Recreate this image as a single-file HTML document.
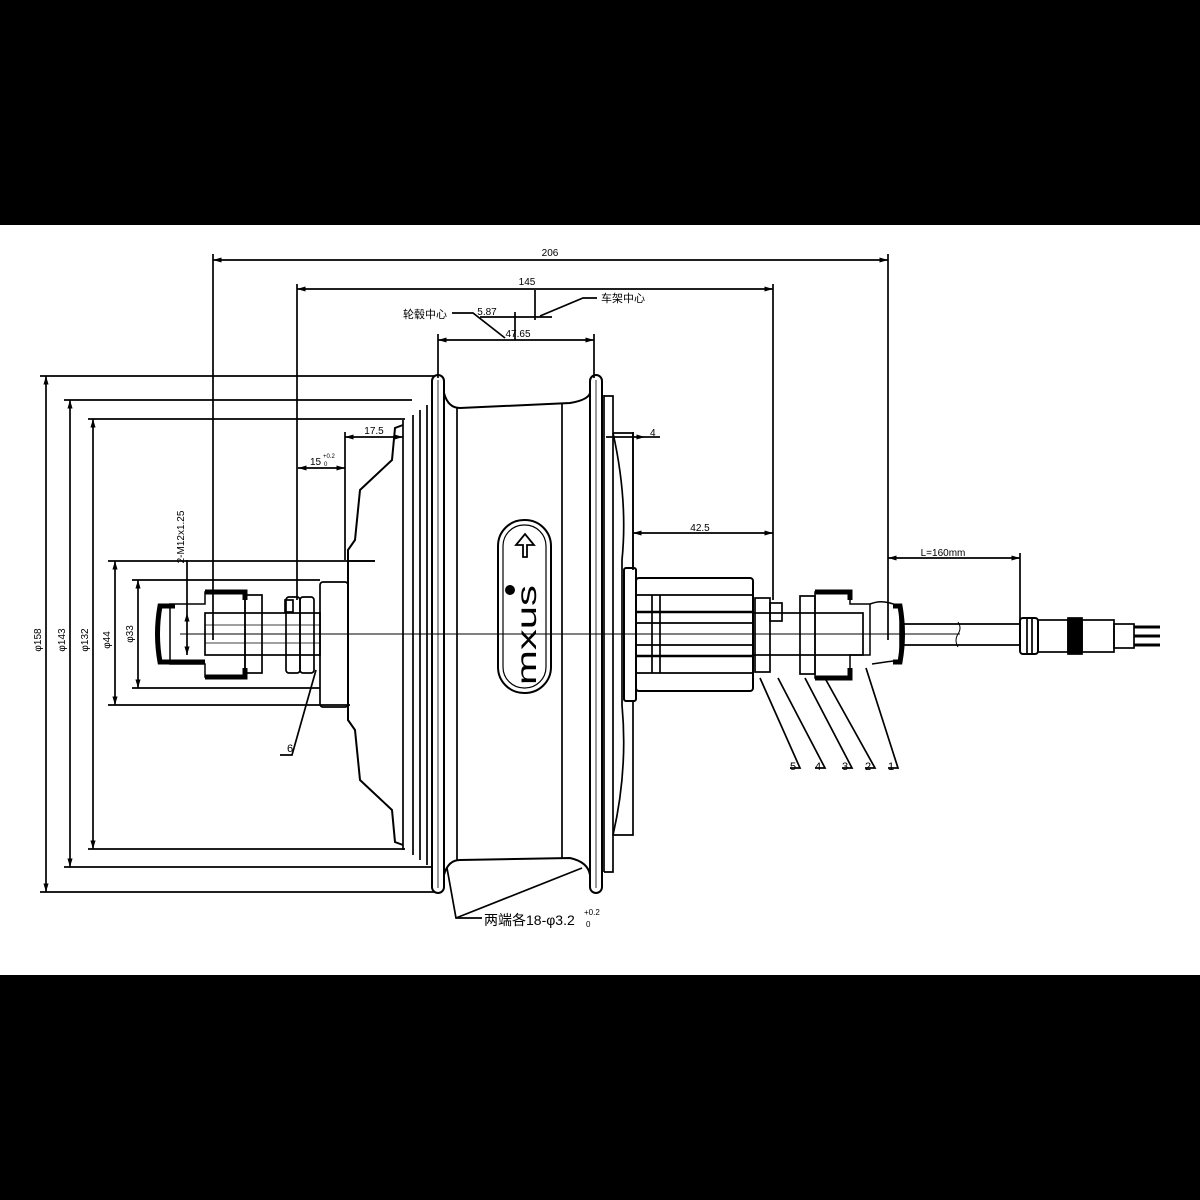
<!DOCTYPE html>
<html><head><meta charset="utf-8"><style>
html,body{margin:0;padding:0;background:#000;}
svg{display:block;}
text{font-family:"Liberation Sans","Noto Sans CJK SC",sans-serif;fill:#000;}
</style></head><body>
<svg width="1200" height="1200" viewBox="0 0 1200 1200" xmlns="http://www.w3.org/2000/svg">
<defs>
<marker id="a" viewBox="0 0 10 10" refX="10" refY="5" markerWidth="5" markerHeight="5" orient="auto-start-reverse"><path d="M0,2 L10,5 L0,8 z" fill="#000"/></marker>
</defs>
<rect x="0" y="0" width="1200" height="1200" fill="#000"/>
<rect x="0" y="225" width="1200" height="750" fill="#fff"/>
<g stroke="#000" fill="none" stroke-width="1.7">
<line x1="213" y1="260" x2="888" y2="260" marker-start="url(#a)" marker-end="url(#a)"/>
<line x1="213" y1="254" x2="213" y2="640"/>
<line x1="888" y1="254" x2="888" y2="640"/>
<line x1="297" y1="289" x2="773" y2="289" marker-start="url(#a)" marker-end="url(#a)"/>
<line x1="297" y1="284" x2="297" y2="600"/>
<line x1="773" y1="284" x2="773" y2="600"/>
<line x1="438" y1="340" x2="594" y2="340" marker-start="url(#a)" marker-end="url(#a)"/>
<line x1="438" y1="334" x2="438" y2="378"/>
<line x1="594" y1="334" x2="594" y2="378"/>
<line x1="480" y1="317" x2="552" y2="317"/>
<line x1="515" y1="312" x2="515" y2="340"/>
<line x1="535" y1="290" x2="535" y2="320"/>
<polyline points="452,313 473,313 505,338"/>
<polyline points="597,298 583,298 540,316"/>
<line x1="46" y1="376" x2="46" y2="892" marker-start="url(#a)" marker-end="url(#a)"/>
<line x1="70" y1="400" x2="70" y2="867" marker-start="url(#a)" marker-end="url(#a)"/>
<line x1="93" y1="419" x2="93" y2="849" marker-start="url(#a)" marker-end="url(#a)"/>
<line x1="115" y1="561" x2="115" y2="705" marker-start="url(#a)" marker-end="url(#a)"/>
<line x1="138" y1="580" x2="138" y2="688" marker-start="url(#a)" marker-end="url(#a)"/>
<line x1="40" y1="376" x2="435" y2="376"/>
<line x1="64" y1="400" x2="412" y2="400"/>
<line x1="88" y1="419" x2="405" y2="419"/>
<line x1="88" y1="849" x2="405" y2="849"/>
<line x1="64" y1="867" x2="432" y2="867"/>
<line x1="40" y1="892" x2="435" y2="892"/>
<line x1="108" y1="561" x2="375" y2="561"/>
<line x1="132" y1="580" x2="320" y2="580"/>
<line x1="132" y1="688" x2="320" y2="688"/>
<line x1="108" y1="705" x2="350" y2="705"/>
<line x1="187" y1="613" x2="187" y2="655" marker-start="url(#a)" marker-end="url(#a)"/>
<line x1="187" y1="560" x2="187" y2="613"/>
<line x1="180" y1="634" x2="960" y2="634" stroke-width="1"/>
<line x1="345" y1="437" x2="403" y2="437" marker-start="url(#a)" marker-end="url(#a)"/>
<line x1="345" y1="432" x2="345" y2="560"/>
<line x1="298" y1="468" x2="345" y2="468" marker-start="url(#a)" marker-end="url(#a)"/>
<line x1="606" y1="437" x2="645" y2="437" marker-end="url(#a)"/>
<line x1="633" y1="432" x2="633" y2="570"/>
<line x1="645" y1="437" x2="660" y2="437"/>
<line x1="633" y1="533" x2="773" y2="533" marker-start="url(#a)" marker-end="url(#a)"/>
<line x1="888" y1="558" x2="1020" y2="558" marker-start="url(#a)" marker-end="url(#a)"/>
<line x1="1020" y1="553" x2="1020" y2="622"/>
<polyline points="403,425 395,428 392,460 360,490 355,540 348,550 348,720 355,730 360,780 392,810 395,842 403,845" stroke-width="2"/>
<line x1="403" y1="420" x2="403" y2="850"/>
<line x1="413" y1="415" x2="413" y2="855"/>
<line x1="420" y1="410" x2="420" y2="860"/>
<line x1="427" y1="405" x2="427" y2="865"/>
<rect x="320" y="582" width="28" height="125" rx="3"/>
<line x1="348" y1="561" x2="375" y2="561"/>
<rect x="432" y="375" width="12" height="518" rx="6" stroke-width="2"/>
<rect x="590" y="375" width="12" height="518" rx="6" stroke-width="2"/>
<line x1="438" y1="380" x2="438" y2="888" stroke-width="0.8"/>
<line x1="596" y1="380" x2="596" y2="888" stroke-width="0.8"/>
<path d="M444,393 Q448,408 460,408 L570,403 Q588,400 590,393" stroke-width="2"/>
<path d="M444,875 Q448,860 460,860 L570,858 Q588,862 590,875" stroke-width="2"/>
<line x1="457" y1="408" x2="457" y2="860"/>
<line x1="562" y1="404" x2="562" y2="858"/>
<line x1="604" y1="395" x2="604" y2="872"/>
<polyline points="604,396 613,396 613,872 604,872"/>
<path d="M613,433 Q628,500 622,560 L622,705 Q628,770 613,835"/>
<polyline points="613,433 633,433 633,568"/>
<polyline points="613,835 633,835 633,700"/>
<rect x="624" y="568" width="12" height="133" rx="2" stroke-width="2"/>
<rect x="636" y="578" width="117" height="113" rx="3" stroke-width="2"/>
<line x1="636" y1="595" x2="753" y2="595"/>
<line x1="636" y1="612" x2="753" y2="612" stroke-width="2.5"/>
<line x1="636" y1="623" x2="753" y2="623"/>
<line x1="636" y1="645" x2="753" y2="645"/>
<line x1="636" y1="656" x2="753" y2="656" stroke-width="2.5"/>
<line x1="636" y1="673" x2="753" y2="673"/>
<line x1="652" y1="595" x2="652" y2="673"/>
<line x1="660" y1="595" x2="660" y2="673"/>
<rect x="755" y="598" width="15" height="74"/>
<rect x="770" y="603" width="12" height="18"/>
<rect x="753" y="613" width="110" height="42"/>
<rect x="800" y="596" width="15" height="78"/>
<path d="M815,592 H850 V604 H870 V655 H850 V678 H815 Z" stroke-width="1.5"/>
<path d="M815,592 H850 V600" stroke-width="5"/>
<path d="M815,678 H850 V668" stroke-width="5"/>
<path d="M870,604 Q880,600 890,603 L900,606 L900,660 L872,664" stroke-width="1.5"/>
<path d="M893,606 L900,606 Q905,634 900,662 L893,662" stroke-width="5"/>
<line x1="900" y1="624" x2="1020" y2="624"/>
<line x1="900" y1="645" x2="1020" y2="645"/>
<path d="M958,622 q4,6 0,12 q-4,6 0,13" stroke-width="1"/>
<rect x="1020" y="618" width="18" height="36" rx="3" stroke-width="2"/>
<line x1="1027" y1="618" x2="1027" y2="654"/>
<line x1="1032" y1="618" x2="1032" y2="654"/>
<rect x="1038" y="620" width="30" height="32"/>
<rect x="1068" y="618" width="14" height="36" fill="#000"/>
<rect x="1082" y="620" width="32" height="32"/>
<rect x="1114" y="624" width="20" height="24"/>
<line x1="1134" y1="627" x2="1160" y2="627" stroke-width="3"/>
<line x1="1134" y1="636" x2="1160" y2="636" stroke-width="3"/>
<line x1="1134" y1="645" x2="1160" y2="645" stroke-width="3"/>
<rect x="205" y="613" width="115" height="42"/>
<path d="M205,592 H245 V677 H205 V664 H170 V604 H205 Z" stroke-width="1.5"/>
<path d="M205,592 H245 V600" stroke-width="5"/>
<path d="M205,677 H245 V668" stroke-width="5"/>
<path d="M175,606 L160,606 Q155,634 160,662 L205,662" stroke-width="5"/>
<rect x="245" y="595" width="17" height="78"/>
<rect x="286" y="597" width="14" height="76" rx="3"/>
<rect x="300" y="597" width="14" height="76" rx="3"/>
<rect x="285" y="600" width="8" height="12"/>
<line x1="205" y1="625" x2="320" y2="625" stroke-width="0.8"/>
<line x1="205" y1="643" x2="320" y2="643" stroke-width="0.8"/>
<polyline points="280,755 292,755 316,670"/>
<polyline points="790,768 800,768 760,678"/>
<polyline points="815,768 825,768 778,678"/>
<polyline points="842,768 852,768 805,678"/>
<polyline points="865,768 875,768 826,680"/>
<polyline points="888,768 898,768 866,668"/>
<polyline points="482,918 456,918 447,868"/>
<line x1="456" y1="918" x2="582" y2="868"/>
<rect x="498" y="520" width="53" height="173" rx="26" stroke-width="2"/>
<rect x="503" y="525" width="43" height="163" rx="21" stroke-width="1.2"/>
<path d="M523,557 L523,545 L516,545 L525,534 L534,545 L527,545 L527,557 Z" stroke-width="1.8"/>
</g>
<circle cx="510" cy="590" r="5" fill="#000"/>
<text transform="translate(536,685) rotate(-90)" font-size="28" font-family="DejaVu Sans, sans-serif" textLength="100" lengthAdjust="spacingAndGlyphs">mxus</text>
<g font-size="10">
<text x="550" y="256" text-anchor="middle">206</text>
<text x="527" y="285" text-anchor="middle">145</text>
<text x="518" y="337" text-anchor="middle">47.65</text>
<text x="487" y="315" text-anchor="middle">5.87</text>
<text x="374" y="434" text-anchor="middle">17.5</text>
<text x="310" y="465">15</text>
<text x="323" y="458" font-size="6">+0.2</text>
<text x="324" y="466" font-size="6">0</text>
<text x="650" y="436">4</text>
<text x="700" y="531" text-anchor="middle">42.5</text>
<text x="943" y="556" text-anchor="middle">L=160mm</text>
<text x="287" y="752" font-size="11">6</text>
<text x="790" y="770" font-size="11">5</text>
<text x="815" y="770" font-size="11">4</text>
<text x="842" y="770" font-size="11">3</text>
<text x="865" y="770" font-size="11">2</text>
<text x="888" y="770" font-size="11">1</text>
<text x="425" y="318" text-anchor="middle" font-size="11">轮毂中心</text>
<text x="623" y="302" text-anchor="middle" font-size="11">车架中心</text>
<text transform="translate(41,640) rotate(-90)" text-anchor="middle">φ158</text>
<text transform="translate(65,640) rotate(-90)" text-anchor="middle">φ143</text>
<text transform="translate(88,640) rotate(-90)" text-anchor="middle">φ132</text>
<text transform="translate(110,640) rotate(-90)" text-anchor="middle">φ44</text>
<text transform="translate(133,634) rotate(-90)" text-anchor="middle">φ33</text>
<text transform="translate(184,537) rotate(-90)" text-anchor="middle">2-M12x1.25</text>
<text x="484" y="925" font-size="14">两端各18-φ3.2</text>
<text x="584" y="915" font-size="8">+0.2</text>
<text x="586" y="927" font-size="8">0</text>
</g>
</svg>
</body></html>
